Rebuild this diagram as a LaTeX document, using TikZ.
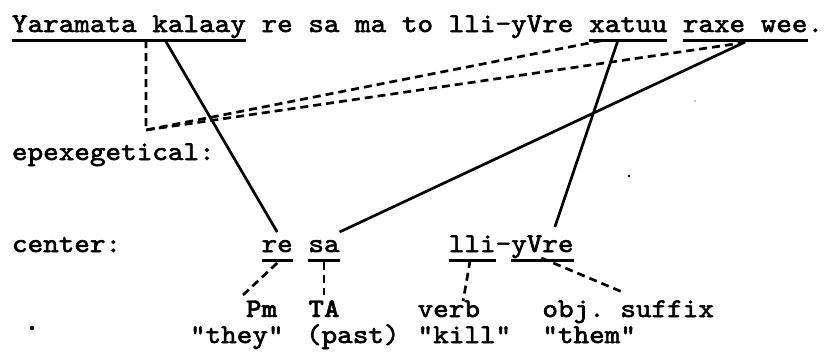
\documentclass[tikz,border=0pt]{standalone}
\usepackage{fontspec}
\newfontfamily\tw{lmmono10-regular.otf}[FakeStretch=1.10, FakeBold=2.2]
\newfontfamily\twb{lmmonolt10-bold.otf}[FakeStretch=1.10, FakeBold=1.8]
\usetikzlibrary{calc}
\tikzset{
  word/.style={anchor=base west, inner sep=0pt, outer sep=0pt,
    text height=20pt, text depth=8pt,
    font=\tw\fontsize{27}{30}\selectfont},
  uline/.style={line width=3pt},
  link/.style={line width=2.7pt},
  dlink/.style={line width=2.7pt, dash pattern=on 8pt off 5pt},
  speck/.style={fill=black, draw=none}
}
\begin{document}
\begin{tikzpicture}[x=1pt, y=-1pt]
  \fill[white] (0,0) rectangle (824,351);
  \useasboundingbox (0,0) rectangle (824,351);

  % sentence line (monospaced columns of 15.6pt)
  \node[word] (yk)  at (12,32)    {Yaramata kalaay};
  \node[word] (mid) at (261.6,32) {re sa ma to lli-yVre};
  \node[word] (xt)  at (589.2,32) {xatuu};
  \node[word] (rw)  at (682.8,32) {raxe wee};
  \node[word] (dot) at (807.6,32) {.};

  % left-hand labels
  \node[word] (epx) at (12,160) {epexegetical:};
  \node[word] (cen) at (12,252) {center:};

  % center forms
  \node[word] (re)  at (261.6,252) {re};
  \node[word] (sa)  at (308.4,252) {sa};
  \node[word] (lli) at (448.8,252) {lli};
  \node[word] (hy)  at (495.6,252) {-};
  \node[word] (yv)  at (511.2,252) {yVre};

  % glosses
  \node[word] (pm)   at (246,317)   {\twb Pm};
  \node[word] (ta)   at (308.4,317) {\twb TA};
  \node[word] (verb) at (417.6,317) {verb};
  \node[word] (obj)  at (542.4,317) {obj.};
  \node[word] (suf)  at (620.4,317) {suffix};
  \node[word] (they) at (190,343)   {"they"};
  \node[word] (past) at (306,343)   {(past)};
  \node[word] (kill) at (417.6,343) {"kill"};
  \node[word] (them) at (542.4,343) {"them"};

  % underlines
  \foreach \n in {yk, xt, rw, re, sa, lli, yv}
    \draw[uline] (\n.south west) -- (\n.south east);

  % attachment points on the underlines
  \coordinate (ykA) at ($(yk.south west)!0.654!(yk.south east)$);
  \coordinate (ykB) at ($(yk.south west)!0.573!(yk.south east)$);
  \coordinate (xtA) at ($(xt.south west)!0.37!(xt.south east)$);
  \coordinate (xtB) at ($(xt.south west)!0.2!(xt.south east)$);
  \coordinate (rwA) at ($(rw.south west)!0.5!(rw.south east)+(0,2)$);
  \coordinate (rwB) at ($(rw.south west)!0.47!(rw.south east)+(0,3)$);
  \coordinate (corner) at (146,130);
  \coordinate (yvTop) at ($(yv.north west)!0.7!(yv.north east)+(0,-5)$);
  \coordinate (verbTop) at ($(verb.north west)!0.73!(verb.north east)+(0,4)$);

  % solid links from the sentence to the center forms
  \draw[link] (ykA) -- (re.north);
  \draw[link] (xtA) -- (yvTop);
  \draw[link] (rwA) -- (sa.north east);

  % epexegetical links
  \draw[dlink] (ykB) -- (corner) -- (xtB);
  \draw[dlink] (corner) -- (rwB);

  % glosses under the center forms
  \draw[dlink] ($(re.south)+(0,3)$) -- ($(pm.north west)+(-3,-2)$);
  \draw[dlink] ($(sa.south)+(0,2)$) -- ($(ta.north)+(0,-2)$);
  \draw[dlink] ($(lli.south)+(-2,0)$) -- (verbTop);
  \draw[dlink] ($(yv.south)+(-1,-2)$) -- ($(suf.north west)+(2,-5)$);

  % stray marks on the page
  \fill[speck] (32,328) circle (2.2pt);
  \fill[speck] (629,176) circle (1.3pt);
  \fill[speck] (695,101) circle (0.6pt);
\end{tikzpicture}
\end{document}
